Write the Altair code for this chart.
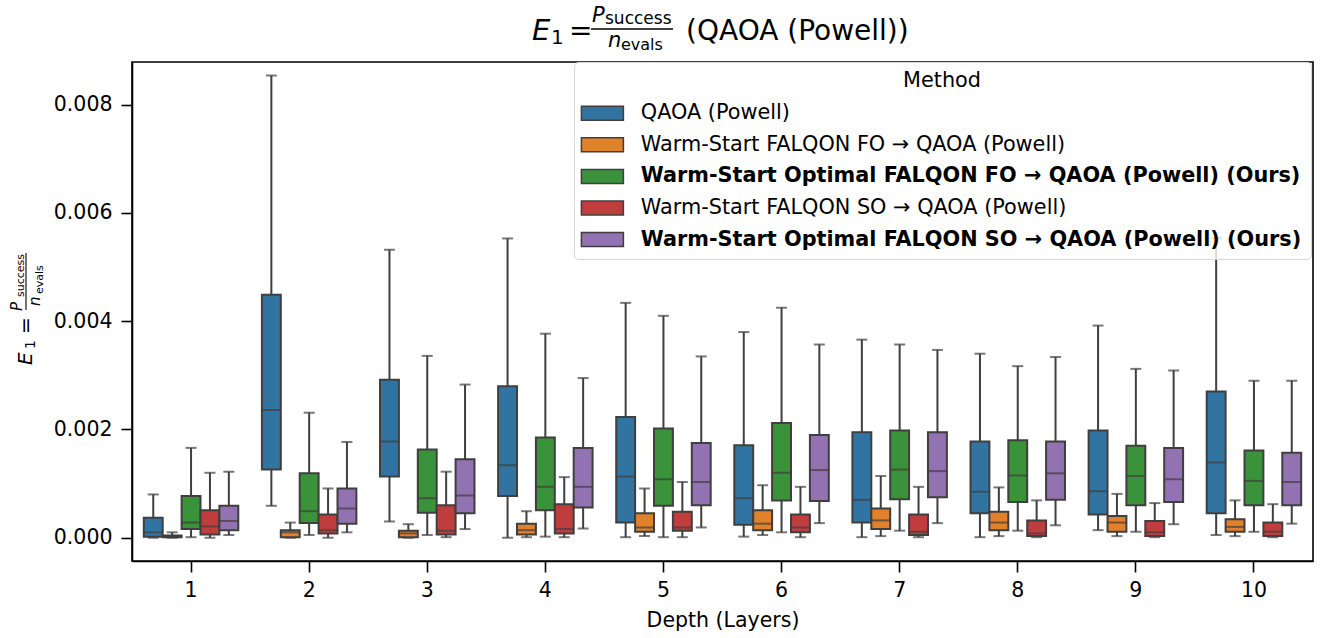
import altair as alt
import pandas as pd

depths = [1, 2, 3, 4, 5, 6, 7, 8, 9, 10]
methods = [
    "QAOA (Powell)",
    "Warm-Start FALQON FO → QAOA (Powell)",
    "Warm-Start Optimal FALQON FO → QAOA (Powell) (Ours)",
    "Warm-Start FALQON SO → QAOA (Powell)",
    "Warm-Start Optimal FALQON SO → QAOA (Powell) (Ours)",
]
colors = ["#3274a1", "#e1812c", "#3a923a", "#c03d3e", "#9372b2"]

# values in units of 1e-3, one list per depth 1..10
qaoa_lo = [0.00, 0.59, 0.30, 0.00, 0.01, 0.02, 0.01, 0.01, 0.14, 0.05]
qaoa_q1 = [0.02, 1.26, 1.13, 0.77, 0.28, 0.24, 0.28, 0.45, 0.43, 0.45]
qaoa_md = [0.10, 2.36, 1.78, 1.34, 1.13, 0.73, 0.70, 0.85, 0.86, 1.39]
qaoa_q3 = [0.37, 4.49, 2.92, 2.80, 2.23, 1.71, 1.95, 1.78, 1.98, 2.70]
qaoa_hi = [0.80, 8.54, 5.32, 5.53, 4.34, 3.80, 3.66, 3.40, 3.92, 5.54]

fo_lo = [0.00, 0.00, 0.00, 0.01, 0.03, 0.05, 0.03, 0.03, 0.03, 0.03]
fo_q1 = [0.01, 0.01, 0.01, 0.06, 0.11, 0.14, 0.16, 0.14, 0.11, 0.11]
fo_md = [0.02, 0.10, 0.08, 0.14, 0.19, 0.26, 0.32, 0.28, 0.28, 0.20]
fo_q3 = [0.04, 0.14, 0.13, 0.26, 0.45, 0.51, 0.54, 0.48, 0.40, 0.34]
fo_hi = [0.10, 0.28, 0.25, 0.49, 0.91, 0.97, 1.14, 0.93, 0.81, 0.69]

ofo_lo = [0.01, 0.05, 0.05, 0.02, 0.01, 0.10, 0.13, 0.13, 0.11, 0.11]
ofo_q1 = [0.16, 0.27, 0.46, 0.51, 0.59, 0.69, 0.71, 0.66, 0.60, 0.60]
ofo_md = [0.28, 0.49, 0.73, 0.94, 1.08, 1.20, 1.26, 1.15, 1.14, 1.05]
ofo_q3 = [0.77, 1.19, 1.63, 1.85, 2.02, 2.12, 1.98, 1.80, 1.70, 1.61]
ofo_hi = [1.66, 2.31, 3.36, 3.77, 4.10, 4.25, 3.57, 3.17, 3.12, 2.90]

so_lo = [0.00, 0.00, 0.01, 0.01, 0.01, 0.01, 0.01, 0.01, 0.01, 0.01]
so_q1 = [0.06, 0.08, 0.06, 0.08, 0.13, 0.10, 0.05, 0.03, 0.03, 0.03]
so_md = [0.21, 0.14, 0.13, 0.16, 0.19, 0.19, 0.11, 0.08, 0.10, 0.11]
so_q3 = [0.51, 0.43, 0.60, 0.62, 0.48, 0.43, 0.43, 0.32, 0.31, 0.28]
so_hi = [1.20, 0.91, 1.22, 1.12, 1.03, 0.94, 0.94, 0.69, 0.64, 0.62]

oso_lo = [0.05, 0.10, 0.16, 0.17, 0.19, 0.27, 0.27, 0.23, 0.25, 0.26]
oso_q1 = [0.14, 0.26, 0.45, 0.56, 0.60, 0.68, 0.75, 0.70, 0.66, 0.60]
oso_md = [0.31, 0.54, 0.78, 0.94, 1.03, 1.25, 1.23, 1.19, 1.08, 1.03]
oso_q3 = [0.59, 0.91, 1.45, 1.66, 1.75, 1.90, 1.95, 1.78, 1.66, 1.57]
oso_hi = [1.22, 1.77, 2.83, 2.95, 3.35, 3.57, 3.47, 3.34, 3.09, 2.90]

series = [
    (qaoa_lo, qaoa_q1, qaoa_md, qaoa_q3, qaoa_hi),
    (fo_lo, fo_q1, fo_md, fo_q3, fo_hi),
    (ofo_lo, ofo_q1, ofo_md, ofo_q3, ofo_hi),
    (so_lo, so_q1, so_md, so_q3, so_hi),
    (oso_lo, oso_q1, oso_md, oso_q3, oso_hi),
]

rows = []
for m, (lo, q1, md, q3, hi) in zip(methods, series):
    for i, d in enumerate(depths):
        rows.append({"depth": d, "method": m,
                     "lo": lo[i] * 1e-3, "q1": q1[i] * 1e-3, "med": md[i] * 1e-3,
                     "q3": q3[i] * 1e-3, "hi": hi[i] * 1e-3})
df = pd.DataFrame(rows)

LINE = "#3f3f3f"
FONT = "DejaVu Sans"

xenc = alt.X("depth:O", title="Depth (Layers)",
             scale=alt.Scale(paddingInner=0.2, paddingOuter=0.1),
             axis=alt.Axis(labelAngle=0, tickSize=11, labelPadding=8, titlePadding=10))
xoff = alt.XOffset("method:N", sort=methods,
                   scale=alt.Scale(domain=methods, paddingInner=0, paddingOuter=0))
yscale = alt.Scale(domain=[-0.00043, 0.00879], nice=False, zero=False)
yaxis = alt.Axis(values=[0, 0.002, 0.004, 0.006, 0.008], format=".3f", tickSize=11,
                 labelPadding=9, title=None)

base = alt.Chart(df).encode(x=xenc, xOffset=xoff)

w_lo = base.mark_rule(color=LINE, strokeWidth=2).encode(
    y=alt.Y("lo:Q", scale=yscale, axis=yaxis), y2="q1:Q")
w_hi = base.mark_rule(color=LINE, strokeWidth=2).encode(y=alt.Y("q3:Q", scale=yscale), y2="hi:Q")
cap_lo = base.mark_tick(color=LINE, thickness=2, size=11).encode(y=alt.Y("lo:Q", scale=yscale))
cap_hi = base.mark_tick(color=LINE, thickness=2, size=11).encode(y=alt.Y("hi:Q", scale=yscale))

legend = alt.Legend(
    title="Method", orient="none", legendX=442, legendY=0,
    symbolType="M-3,-1H3V1H-3Z", symbolSize=196,
    symbolStrokeColor=LINE, symbolStrokeWidth=1.5, symbolOpacity=1,
    symbolOffset=9, labelOffset=28,
    fillColor="rgba(255,255,255,0.8)", strokeColor="#d6d6d6",
    cornerRadius=4, padding=9, titleAnchor="middle", titlePadding=11,
    titleFont=FONT, titleFontSize=20.8, titleFontWeight="normal", titleColor="black",
    labelFont=FONT, labelFontSize=20.8, labelColor="black", labelLimit=900,
    labelFontWeight=alt.ExprRef(expr="indexof(datum.label, 'Ours') >= 0 ? 'bold' : 'normal'"),
    rowPadding=9.6,
)

box = base.mark_bar(stroke=LINE, strokeWidth=2, opacity=1).encode(
    y=alt.Y("q1:Q", scale=yscale), y2="q3:Q",
    color=alt.Color("method:N", sort=methods,
                    scale=alt.Scale(domain=methods, range=colors), legend=legend),
)
med = base.mark_tick(color=LINE, thickness=2, size=19).encode(y=alt.Y("med:Q", scale=yscale))


def txt(s, x, y, size, italic=False, angle=0):
    return alt.Chart(alt.Data(values=[{"t": s}])).mark_text(
        font=FONT, fontSize=size, fontStyle="italic" if italic else "normal",
        align="left", baseline="alphabetic", angle=angle, color="black",
    ).encode(x=alt.value(x), y=alt.value(y), text="t:N")


def hline(x1, x2, y):
    return alt.Chart(alt.Data(values=[{}])).mark_rule(color="black", strokeWidth=1.3).encode(
        x=alt.value(x1), x2=alt.value(x2), y=alt.value(y))


def vline(x, y1, y2):
    return alt.Chart(alt.Data(values=[{}])).mark_rule(color="black", strokeWidth=1.1).encode(
        x=alt.value(x), y=alt.value(y1), y2=alt.value(y2))


OX, OY = 132, 62  # page offset of the plot area
title_parts = [
    txt("E", 532 - OX, 40 - OY, 29, italic=True),
    txt("1", 551 - OX, 44 - OY, 20),
    txt("=", 569 - OX, 40 - OY, 28),
    txt("P", 592 - OX, 22 - OY, 21, italic=True),
    txt("success", 605 - OX, 24 - OY, 17),
    hline(591 - OX, 673 - OX, 29 - OY),
    txt("n", 608 - OX, 47 - OY, 21, italic=True),
    txt("evals", 621 - OX, 50 - OY, 16),
    txt("(QAOA (Powell))", 686 - OX, 40 - OY, 28),
]
ytitle_parts = [
    txt("E", 32 - OX, 365 - OY, 20, italic=True, angle=270),
    txt("1", 35 - OX, 349 - OY, 14, angle=270),
    txt("=", 32 - OX, 334 - OY, 20, angle=270),
    txt("P", 22 - OX, 311 - OY, 15, italic=True, angle=270),
    txt("success", 23.5 - OX, 297 - OY, 11, angle=270),
    vline(26 - OX, 253 - OY, 310 - OY),
    txt("n", 40 - OX, 306 - OY, 15, italic=True, angle=270),
    txt("evals", 43 - OX, 294 - OY, 11, angle=270),
]

chart = alt.layer(w_lo, w_hi, cap_lo, cap_hi, box, med, *title_parts, *ytitle_parts).properties(
    width=1181, height=499,
    padding={"left": 132, "top": 62, "right": 22, "bottom": 77},
    autosize=alt.AutoSizeParams(type="none"),
).configure_view(stroke="black", strokeWidth=1.6).configure_axis(
    labelFont=FONT, titleFont=FONT, labelFontSize=20.5, titleFontSize=20.5,
    titleFontWeight="normal", labelColor="black", titleColor="black",
    domainColor="black", domainWidth=1.6, tickColor="black", tickWidth=1.6, grid=False,
)

chart.save("out.html", embed_options={"renderer": "svg", "actions": False})
